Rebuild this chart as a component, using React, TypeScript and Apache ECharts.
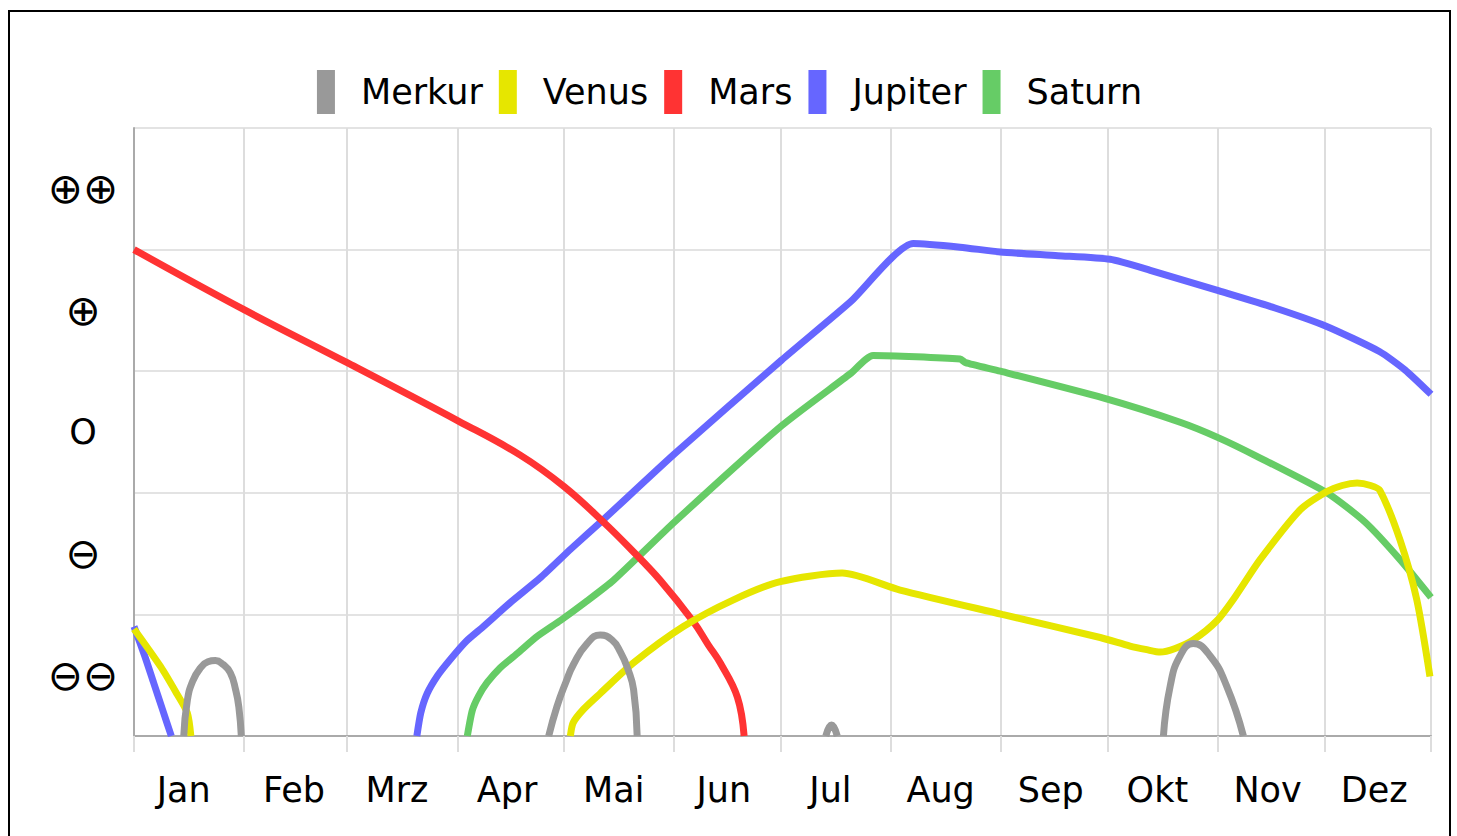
import React, { useEffect, useRef } from 'react';
import * as echarts from 'echarts';

const FONT = 'DejaVu Sans';

const MONTHS = ['Jan', 'Feb', 'Mrz', 'Apr', 'Mai', 'Jun', 'Jul', 'Aug', 'Sep', 'Okt', 'Nov', 'Dez'];
const MONTH_START_DAYS = [0, 31, 60, 91, 121, 152, 182, 213, 244, 274, 305, 335, 365];
const MONTH_LABEL_DAYS = [14, 45, 74, 105, 135, 166, 196, 227, 258, 288, 319, 349];
const LEVEL_LABELS = ['⊖⊖', '⊖', 'O', '⊕', '⊕⊕'];
const LEVEL_LABEL_VALUES = [0.5, 1.5, 2.5, 3.5, 4.5];

const PLANETS = ['Merkur', 'Venus', 'Mars', 'Jupiter', 'Saturn'];
const COLORS = ['#999999', '#e6e600', '#ff3333', '#6666ff', '#66cc66'];

const merkur: any[] = [
  [14.0, 0], [15.0, 0.29], [16.5, 0.45], [18.7, 0.56], [20.8, 0.61], [22.9, 0.62], [25.0, 0.59], [27.1, 0.52], [28.6, 0.38], [29.5, 0.24], [30.2, 0],
  [30.5, '-'],
  [116.7, 0], [119.0, 0.24], [121.5, 0.44], [123.7, 0.59], [127.5, 0.76], [131.2, 0.83], [134.5, 0.79], [136.9, 0.69], [139.0, 0.55], [140.6, 0.38], [141.6, 0],
  [142.0, '-'],
  [194.7, 0], [196.3, 0.09], [197.9, 0],
  [198.5, '-'],
  [289.7, 0], [291.6, 0.41], [294.4, 0.66], [298.1, 0.76], [302.8, 0.66], [307.5, 0.41], [312.2, 0],
];

const venus: any[] = [
  [0, 0.88], [7.5, 0.57], [12.0, 0.35], [15.0, 0.19], [16.0, 0],
  [16.5, '-'],
  [122.8, 0], [123.6, 0.11], [126.5, 0.22], [131.2, 0.35], [140.5, 0.6], [154.6, 0.9], [168.7, 1.12], [181.9, 1.27], [199.3, 1.34],
  [215.6, 1.2], [244.3, 1.0], [271.9, 0.81], [280.3, 0.74], [285.0, 0.71], [288.8, 0.69], [293.0, 0.72], [298.1, 0.79], [304.8, 0.95],
  [310.0, 1.15], [316.9, 1.45], [328.2, 1.86], [335.7, 2.01], [340.0, 2.06], [344.2, 2.08], [348.0, 2.06], [350.6, 2.02],
  [356.3, 1.61], [361.0, 1.12], [364.7, 0.49],
];

const mars: any[] = [
  [0, 4.0], [30.7, 3.51], [60.0, 3.07], [91.3, 2.59], [108.7, 2.31], [121.1, 2.05], [132.1, 1.76], [139.7, 1.54], [148.1, 1.28],
  [157.4, 0.94], [161.6, 0.75], [165.0, 0.6], [169.8, 0.32], [171.7, 0],
];

const jupiter: any[] = [
  [0, 0.9], [3.0, 0.66], [5.5, 0.44], [8.0, 0.22], [10.5, 0],
  [11.0, '-'],
  [79.6, 0], [80.7, 0.19], [82.5, 0.35], [85.5, 0.5], [89.0, 0.63], [93.5, 0.78], [98.3, 0.9], [106.0, 1.1], [114.3, 1.3],
  [123.0, 1.54], [132.1, 1.78], [152.1, 2.32], [182.2, 3.09], [201.6, 3.57], [219.3, 4.05], [232.5, 4.02], [243.8, 3.98],
  [260.0, 3.95], [274.7, 3.92], [286.0, 3.83], [305.4, 3.66], [321.1, 3.52], [335.5, 3.37], [350.6, 3.16], [357.7, 3.01], [365, 2.81],
];

const saturn: any[] = [
  [93.8, 0], [95.2, 0.21], [97.0, 0.33], [99.4, 0.44], [103.0, 0.56], [107.9, 0.68], [113.5, 0.82], [120.0, 0.95], [127.0, 1.1],
  [134.9, 1.28], [152.1, 1.76], [182.2, 2.55], [201.6, 2.98], [208.0, 3.13], [232.5, 3.1], [234.0, 3.07], [243.8, 3.0],
  [272.7, 2.78], [294.4, 2.58], [305.4, 2.45], [316.0, 2.3], [335.7, 2.0], [346.4, 1.76], [356.3, 1.45], [365, 1.14],
];

const SERIES_DATA: Record<string, any[]> = {
  Merkur: merkur,
  Venus: venus,
  Mars: mars,
  Jupiter: jupiter,
  Saturn: saturn,
};

const SMOOTH: Record<string, number> = {
  Merkur: 0.5,
  Venus: 0.25,
  Mars: 0.4,
  Jupiter: 0.2,
  Saturn: 0.2,
};

export default function App() {
  const ref = useRef<HTMLDivElement>(null);

  useEffect(() => {
    document.documentElement.style.overflow = 'hidden';
    document.body.style.overflow = 'hidden';
    const chart = echarts.init(ref.current!, null, { renderer: 'svg' });
    const drawOrder = ['Saturn', 'Jupiter', 'Mars', 'Venus', 'Merkur'];
    chart.setOption({
      animation: false,
      textStyle: { fontFamily: FONT },
      legend: {
        data: PLANETS,
        top: 53,
        left: 'center',
        icon: 'rect',
        itemWidth: 18,
        itemHeight: 44,
        itemGap: 16,
        textStyle: { fontSize: 35, color: '#000', fontFamily: FONT, padding: [0, 0, 0, 21] },
      },
      grid: { left: 124, top: 116, right: 18, bottom: 106 },
      xAxis: {
        type: 'value',
        min: 0,
        max: 365,
        axisLine: { show: true, lineStyle: { color: '#aaaaaa', width: 2 } },
        axisTick: {
          show: true,
          length: 16,
          customValues: MONTH_START_DAYS,
          lineStyle: { color: '#dddddd', width: 2 },
        },
        axisLabel: {
          customValues: MONTH_LABEL_DAYS,
          formatter: (v: number) => MONTHS[MONTH_LABEL_DAYS.indexOf(v)] ?? '',
          fontSize: 35,
          color: '#000',
          margin: 36,
          fontFamily: FONT,
        },
        splitLine: { show: true, lineStyle: { color: '#dddddd', width: 2 } },
      },
      yAxis: {
        type: 'value',
        min: 0,
        max: 5,
        interval: 1,
        axisLine: { show: true, lineStyle: { color: '#aaaaaa', width: 2 } },
        axisTick: { show: false },
        axisLabel: {
          customValues: LEVEL_LABEL_VALUES,
          formatter: (v: number) => {
            const t = LEVEL_LABELS[LEVEL_LABEL_VALUES.indexOf(v)] ?? '';
            return t === 'O' ? t : '{sym|' + t + '}';
          },
          fontSize: 35,
          color: '#000',
          align: 'center',
          margin: 51,
          fontFamily: FONT,
          rich: {
            sym: { fontSize: 42, color: '#000', fontFamily: FONT },
          },
        },
        splitLine: { show: true, lineStyle: { color: '#e3e3e3', width: 2 } },
      },
      series: drawOrder.map((name) => {
        const color = COLORS[PLANETS.indexOf(name)];
        return {
          name,
          type: 'line',
          data: SERIES_DATA[name],
          showSymbol: false,
          symbol: 'none',
          connectNulls: false,
          clip: true,
          smooth: SMOOTH[name],
          itemStyle: { color },
          lineStyle: { color, width: 7 },
        };
      }),
    });
    return () => chart.dispose();
  }, []);

  return (
    <div
      style={{
        position: 'absolute',
        left: 8,
        top: 10,
        width: 1443,
        height: 840,
        boxSizing: 'border-box',
        border: '2px solid #000',
      }}
    >
      <div ref={ref} style={{ width: 1439, height: 830 }} />
    </div>
  );
}
